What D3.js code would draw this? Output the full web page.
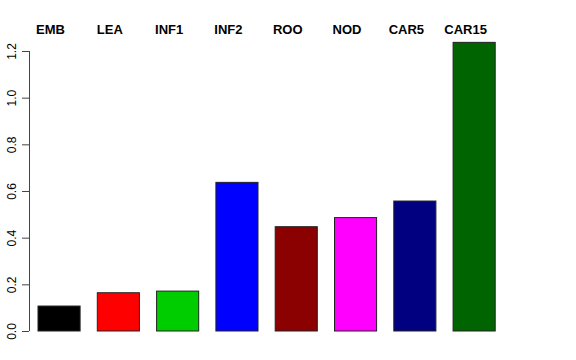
<!DOCTYPE html>
<html>
  <head>
    <meta http-equiv="Content-Type" content="text/html;charset=utf-8">
    <title>Barplot</title>
    <script src="https://cdn.jsdelivr.net/npm/d3@7"></script>
    <style type="text/css">
body {
    margin: 0;
    background: #fff;
}
text {
    font-family: "Liberation Sans", Arial, sans-serif;
}
    </style>
  </head>
  <body>
    <script type="text/javascript">
// data
var categories = ['EMB', 'LEA', 'INF1', 'INF2', 'ROO', 'NOD', 'CAR5', 'CAR15'],
    values = [0.107, 0.164, 0.171, 0.637, 0.447, 0.486, 0.557, 1.237],
    colors = ['#000000', '#ff0000', '#00cd00', '#0000ff', '#8b0000', '#ff00ff', '#000080', '#006400'],
    yTicks = [0.0, 0.2, 0.4, 0.6, 0.8, 1.0, 1.2];

var w = 576,
    h = 360;

var x = d3.scaleBand()
    .domain(categories)
    .range([29.4, 503.8])
    .paddingInner(0.29)
    .paddingOuter(0.145);

var y = d3.scaleLinear()
    .domain([0, 1.2])
    .range([331, 51]);

var svg = d3.select('body').append('svg')
    .attr('width', w)
    .attr('height', h);

// bars
svg.selectAll('rect.bar')
    .data(values)
  .enter().append('rect')
    .attr('class', 'bar')
    .attr('x', function(d, i) { return x(categories[i]) })
    .attr('y', function(d) { return y(d) })
    .attr('width', x.bandwidth())
    .attr('height', function(d) { return y(0) - y(d) })
    .attr('fill', function(d, i) { return colors[i] })
    .attr('stroke', '#222')
    .attr('stroke-width', 1);

// labels on top
svg.selectAll('text.cat')
    .data(categories)
  .enter().append('text')
    .attr('class', 'cat')
    .attr('x', function(d) { return x(d) + x.bandwidth() / 2 - 8.5 })
    .attr('y', 34)
    .attr('text-anchor', 'middle')
    .attr('font-weight', 'bold')
    .attr('font-size', 13)
    .text(function(d) { return d });

// y axis
var axis = svg.append('g')
    .attr('transform', 'translate(29,0)')
    .call(d3.axisLeft(y)
        .tickValues(yTicks)
        .tickSize(7)
        .tickPadding(4)
        .tickFormat(d3.format('.1f')));

axis.select('.domain')
    .attr('stroke', '#444')
    .attr('d', 'M0.5,' + y(0) + 'V' + y(1.2));
axis.selectAll('.tick line').attr('stroke', '#444');
axis.selectAll('.tick text')
    .attr('font-size', 12)
    .attr('font-family', '"Liberation Sans", Arial, sans-serif')
    .attr('fill', '#000')
    .attr('text-anchor', 'middle')
    .attr('transform', 'rotate(-90)')
    .attr('x', 0)
    .attr('y', -13)
    .attr('dy', 0);
    </script>
  </body>
</html>
